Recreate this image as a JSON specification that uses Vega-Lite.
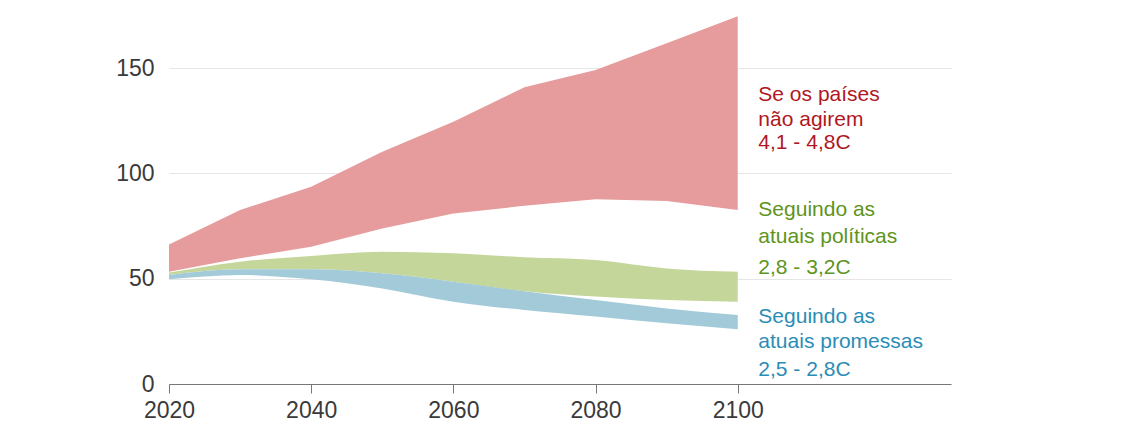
{
  "$schema": "https://vega.github.io/schema/vega-lite/v6.json",
  "width": 782,
  "height": 379,
  "autosize": "none",
  "padding": {"left": 169, "top": 5, "right": 184, "bottom": 37},
  "background": "white",
  "config": {
    "view": {"stroke": null},
    "font": "Liberation Sans",
    "axis": {"labelFont": "Liberation Sans", "labelColor": "#3a3a3a", "labelFontSize": 23}
  },
  "datasets": {
    "bands": [
      {"year": 2020, "series": "none", "lo": 53.3, "hi": 66.3},
      {"year": 2030, "series": "none", "lo": 59.7, "hi": 82.6},
      {"year": 2040, "series": "none", "lo": 65.2, "hi": 93.7},
      {"year": 2050, "series": "none", "lo": 73.9, "hi": 110.3},
      {"year": 2060, "series": "none", "lo": 81.0, "hi": 124.5},
      {"year": 2070, "series": "none", "lo": 84.6, "hi": 140.9},
      {"year": 2080, "series": "none", "lo": 87.7, "hi": 149.1},
      {"year": 2090, "series": "none", "lo": 86.9, "hi": 161.8},
      {"year": 2100, "series": "none", "lo": 82.6, "hi": 174.7},
      {"year": 2020, "series": "policy", "lo": 51.8, "hi": 52.9},
      {"year": 2030, "series": "policy", "lo": 54.5, "hi": 58.1},
      {"year": 2040, "series": "policy", "lo": 54.5, "hi": 60.8},
      {"year": 2050, "series": "policy", "lo": 52.6, "hi": 62.8},
      {"year": 2060, "series": "policy", "lo": 48.6, "hi": 62.1},
      {"year": 2070, "series": "policy", "lo": 44.0, "hi": 60.2},
      {"year": 2080, "series": "policy", "lo": 41.5, "hi": 58.9},
      {"year": 2090, "series": "policy", "lo": 39.9, "hi": 54.9},
      {"year": 2100, "series": "policy", "lo": 39.1, "hi": 53.3},
      {"year": 2020, "series": "pledge", "lo": 49.7, "hi": 51.8},
      {"year": 2030, "series": "pledge", "lo": 51.8, "hi": 54.5},
      {"year": 2040, "series": "pledge", "lo": 49.7, "hi": 54.5},
      {"year": 2050, "series": "pledge", "lo": 45.4, "hi": 52.6},
      {"year": 2060, "series": "pledge", "lo": 39.1, "hi": 48.6},
      {"year": 2070, "series": "pledge", "lo": 35.1, "hi": 44.0},
      {"year": 2080, "series": "pledge", "lo": 32.0, "hi": 39.9},
      {"year": 2090, "series": "pledge", "lo": 28.8, "hi": 35.9},
      {"year": 2100, "series": "pledge", "lo": 26.0, "hi": 32.8}
    ],
    "labels": [
      {"series": "none", "year": 2102.9, "value": 137.2, "label": "Se os países"},
      {"series": "none", "year": 2102.9, "value": 125.4, "label": "não agirem"},
      {"series": "none", "year": 2102.9, "value": 114.4, "label": "4,1 - 4,8C"},
      {"series": "policy", "year": 2102.9, "value": 82.6, "label": "Seguindo as"},
      {"series": "policy", "year": 2102.9, "value": 69.8, "label": "atuais políticas"},
      {"series": "policy", "year": 2102.9, "value": 55.1, "label": "2,8 - 3,2C"},
      {"series": "pledge", "year": 2102.9, "value": 31.8, "label": "Seguindo as"},
      {"series": "pledge", "year": 2102.9, "value": 19.9, "label": "atuais promessas"},
      {"series": "pledge", "year": 2102.9, "value": 6.6, "label": "2,5 - 2,8C"}
    ]
  },
  "encoding": {
    "x": {
      "field": "year", "type": "quantitative",
      "scale": {"domain": [2020, 2130], "nice": false, "zero": false},
      "axis": {
        "title": null, "values": [2020, 2040, 2060, 2080, 2100], "format": "d",
        "grid": false, "domainColor": "#777777", "domainWidth": 1.2, "labelFlush": false,
        "tickColor": "#777777", "tickSize": 9, "labelPadding": 6
      }
    }
  },
  "layer": [
    {
      "data": {"name": "bands"},
      "transform": [{"filter": "datum.series === 'none'"}],
      "mark": {"type": "area", "interpolate": "linear", "color": "#e69c9c"},
      "encoding": {
        "y": {
          "field": "hi", "type": "quantitative",
          "scale": {"domain": [0, 180], "nice": false},
          "axis": {
            "title": null, "values": [0, 50, 100, 150], "domain": false, "ticks": false,
            "gridColor": "#e6e6e6", "gridWidth": 1.2, "labelPadding": 15
          }
        },
        "y2": {"field": "lo"}
      }
    },
    {
      "data": {"name": "bands"},
      "transform": [{"filter": "datum.series === 'policy'"}],
      "mark": {"type": "area", "interpolate": "monotone", "color": "#c5d69b"},
      "encoding": {
        "y": {"field": "hi", "type": "quantitative"},
        "y2": {"field": "lo"}
      }
    },
    {
      "data": {"name": "bands"},
      "transform": [{"filter": "datum.series === 'pledge'"}],
      "mark": {"type": "area", "interpolate": "monotone", "color": "#a2cad8"},
      "encoding": {
        "y": {"field": "hi", "type": "quantitative"},
        "y2": {"field": "lo"}
      }
    },
    {
      "data": {"name": "labels"},
      "mark": {"type": "text", "align": "left", "baseline": "middle", "fontSize": 21},
      "encoding": {
        "y": {"field": "value", "type": "quantitative"},
        "text": {"field": "label"},
        "color": {
          "field": "series", "type": "nominal",
          "scale": {"domain": ["none", "policy", "pledge"], "range": ["#b0171f", "#5e9420", "#2a8db5"]},
          "legend": null
        }
      }
    }
  ]
}
